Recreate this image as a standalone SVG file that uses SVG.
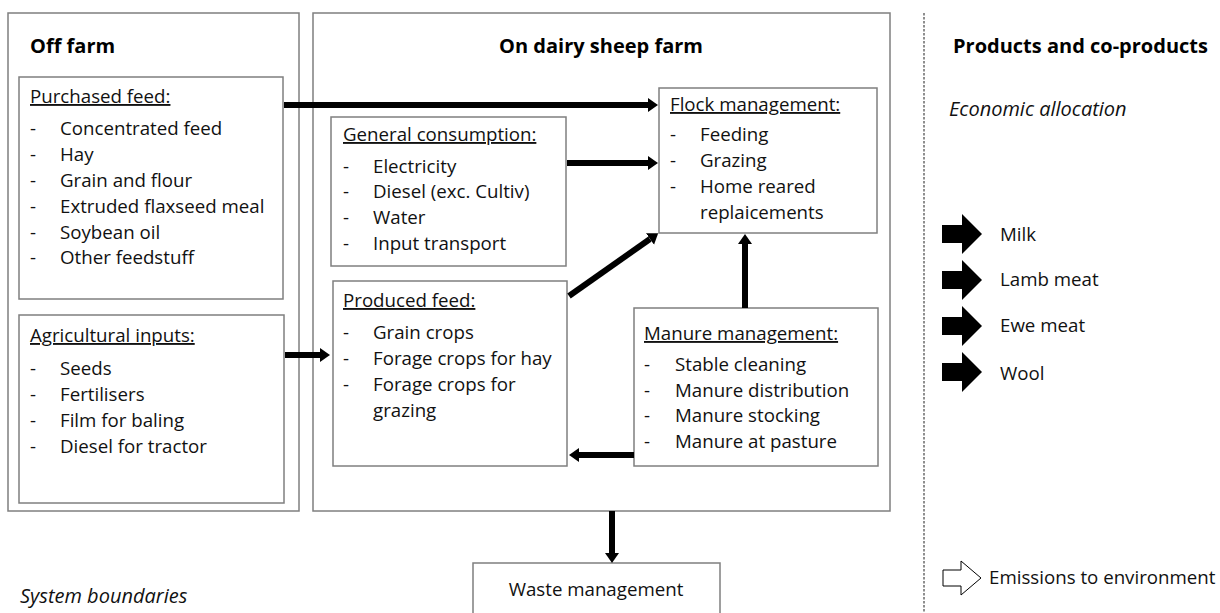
<svg xmlns="http://www.w3.org/2000/svg" width="1220" height="613" viewBox="0 0 1220 613">
<style>
.box{fill:#fff;stroke:#7f7f7f;stroke-width:1.5}
.t{font-family:"Open Sans","Liberation Sans",sans-serif;font-size:18.7px;fill:#111}
.h{font-family:"Open Sans","Liberation Sans",sans-serif;font-size:20px;font-weight:bold;fill:#000}
.u{text-decoration:underline}
.i{font-style:italic;font-size:20px}
.c{stroke:#000;stroke-width:6;fill:none}
</style>
<defs>
<marker id="ah" markerUnits="userSpaceOnUse" markerWidth="11" markerHeight="16" refX="0" refY="8" orient="auto">
<path d="M0,1 L10,8 L0,15 z" fill="#000"/>
</marker>
</defs>
<rect width="1220" height="613" fill="#fff"/>

<g id="off-farm">
<rect class="box" x="8" y="13" width="291" height="498"/>
<text class="h" x="30" y="53">Off farm</text>
</g>

<g id="on-farm">
<rect class="box" x="313" y="13" width="577" height="498"/>
<text class="h" x="601" y="53" text-anchor="middle">On dairy sheep farm</text>
</g>

<g id="purchased-feed">
<rect class="box" x="19" y="77" width="264" height="222"/>
<text class="t u" x="30" y="103">Purchased feed:</text>
<g class="t">
<text x="30" y="135">-</text><text x="60" y="135">Concentrated feed</text>
<text x="30" y="161">-</text><text x="60" y="161">Hay</text>
<text x="30" y="187">-</text><text x="60" y="187">Grain and flour</text>
<text x="30" y="213">-</text><text x="60" y="213">Extruded flaxseed meal</text>
<text x="30" y="239">-</text><text x="60" y="239">Soybean oil</text>
<text x="30" y="264">-</text><text x="60" y="264">Other feedstuff</text>
</g>
</g>

<g id="agricultural-inputs">
<rect class="box" x="19" y="315" width="265" height="188"/>
<text class="t u" x="30" y="342">Agricultural inputs:</text>
<g class="t">
<text x="30" y="375">-</text><text x="60" y="375">Seeds</text>
<text x="30" y="401">-</text><text x="60" y="401">Fertilisers</text>
<text x="30" y="427">-</text><text x="60" y="427">Film for baling</text>
<text x="30" y="453">-</text><text x="60" y="453">Diesel for tractor</text>
</g>
</g>

<g id="general-consumption">
<rect class="box" x="331" y="117" width="235" height="149"/>
<text class="t u" x="343" y="141">General consumption:</text>
<g class="t">
<text x="343" y="173">-</text><text x="373" y="173">Electricity</text>
<text x="343" y="198">-</text><text x="373" y="198">Diesel (exc. Cultiv)</text>
<text x="343" y="224">-</text><text x="373" y="224">Water</text>
<text x="343" y="250">-</text><text x="373" y="250">Input transport</text>
</g>
</g>

<g id="flock-management">
<rect class="box" x="659" y="88" width="218" height="145"/>
<text class="t u" x="670" y="111">Flock management:</text>
<g class="t">
<text x="670" y="141">-</text><text x="700" y="141">Feeding</text>
<text x="670" y="167">-</text><text x="700" y="167">Grazing</text>
<text x="670" y="193">-</text><text x="700" y="193">Home reared</text>
<text x="700" y="219">replaicements</text>
</g>
</g>

<g id="produced-feed">
<rect class="box" x="333" y="281" width="234" height="185"/>
<text class="t u" x="343" y="307">Produced feed:</text>
<g class="t">
<text x="343" y="339">-</text><text x="373" y="339">Grain crops</text>
<text x="343" y="365">-</text><text x="373" y="365">Forage crops for hay</text>
<text x="343" y="391">-</text><text x="373" y="391">Forage crops for</text>
<text x="373" y="417">grazing</text>
</g>
</g>

<g id="manure-management">
<rect class="box" x="634" y="308" width="244" height="158"/>
<text class="t u" x="644" y="340">Manure management:</text>
<g class="t">
<text x="644" y="371">-</text><text x="675" y="371">Stable cleaning</text>
<text x="644" y="397">-</text><text x="675" y="397">Manure distribution</text>
<text x="644" y="422">-</text><text x="675" y="422">Manure stocking</text>
<text x="644" y="448">-</text><text x="675" y="448">Manure at pasture</text>
</g>
</g>

<g id="waste-management">
<rect class="box" x="473" y="563" width="247" height="65"/>
<text class="t" x="596" y="596" text-anchor="middle">Waste management</text>
</g>

<g id="connectors">
<line class="c" x1="284" y1="105" x2="648" y2="105" marker-end="url(#ah)"/>
<line class="c" x1="567" y1="163" x2="648" y2="163" marker-end="url(#ah)"/>
<line class="c" x1="569" y1="296" x2="650" y2="239" marker-end="url(#ah)"/>
<line class="c" x1="745" y1="308" x2="745" y2="244" marker-end="url(#ah)"/>
<line class="c" x1="634" y1="455" x2="579" y2="455" marker-end="url(#ah)"/>
<line class="c" x1="285" y1="355" x2="320" y2="355" marker-end="url(#ah)"/>
<line class="c" x1="612" y1="511" x2="612" y2="553" marker-end="url(#ah)"/>
</g>

<line x1="924" y1="13" x2="924" y2="613" stroke="#444" stroke-width="1.2" stroke-dasharray="2.5,1.5"/>

<g id="products">
<text class="h" x="953" y="53">Products and co-products</text>
<text class="t i" x="949" y="116">Economic allocation</text>
<g id="milk">
<path d="M942,225 H962 V214 L982,234 L962,254 V243 H942 z" fill="#000"/>
<text class="t" x="1000" y="241">Milk</text>
</g>
<g id="lamb-meat">
<path d="M942,271 H962 V260 L982,280 L962,300 V289 H942 z" fill="#000"/>
<text class="t" x="1000" y="286">Lamb meat</text>
</g>
<g id="ewe-meat">
<path d="M942,317 H962 V306 L982,326 L962,346 V335 H942 z" fill="#000"/>
<text class="t" x="1000" y="332">Ewe meat</text>
</g>
<g id="wool">
<path d="M942,363 H962 V352 L982,372 L962,392 V381 H942 z" fill="#000"/>
<text class="t" x="1000" y="380">Wool</text>
</g>
<g id="emissions">
<path d="M943,570 H961 V561 L981,578 L961,595 V586 H943 z" fill="#fff" stroke="#000" stroke-width="1"/>
<text class="t" x="989" y="584">Emissions to environment</text>
</g>
</g>

<text class="t i" x="20" y="603">System boundaries</text>
</svg>
